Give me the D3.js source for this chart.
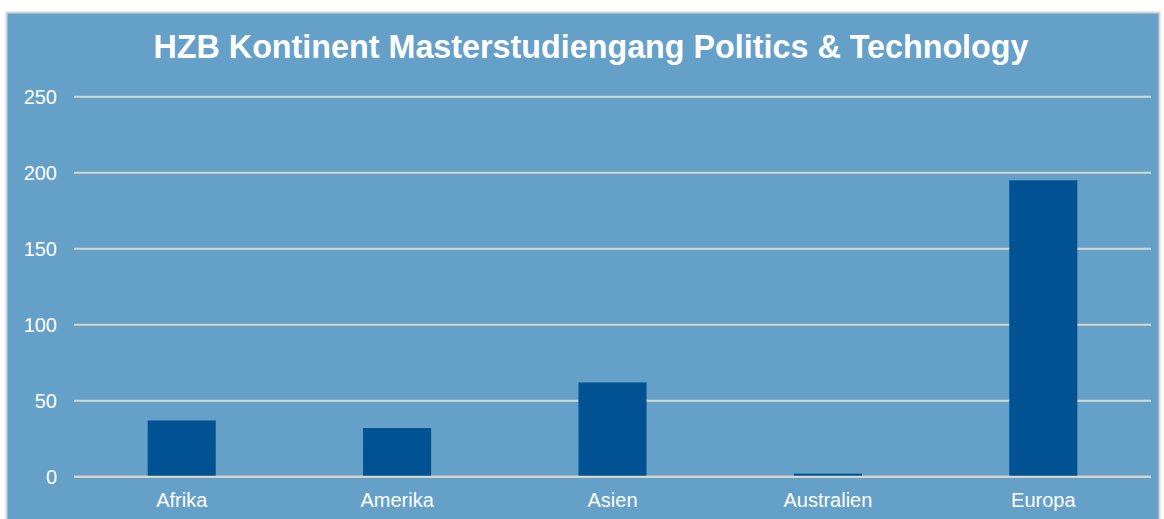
<!DOCTYPE html>
<html lang="de">
<head>
<meta charset="utf-8">
<title>HZB Kontinent Masterstudiengang Politics &amp; Technology</title>
<script src="https://cdn.jsdelivr.net/npm/d3@7"></script>
<style>
  body { margin: 0; background: #fff; }
  text { font-family: "Liberation Sans", Arial, sans-serif; }
</style>
</head>
<body>
<div id="chart"></div>
<script>
// Daten
var categories = ["Afrika", "Amerika", "Asien", "Australien", "Europa"];
var values = [37, 32, 62, 2, 195];
var yTicks = [0, 50, 100, 150, 200, 250];
var title = "HZB Kontinent Masterstudiengang Politics & Technology";

var W = 1164, H = 519;
var plot = { left: 74, right: 1151, top: 96.7, bottom: 476.7 };

var svg = d3.select("#chart").append("svg")
    .attr("width", W)
    .attr("height", H);

// Hintergrund mit grauem Rahmen
svg.append("rect")
    .attr("x", 6.5).attr("y", 12.5)
    .attr("width", 1153).attr("height", 530)
    .attr("fill", "#64a0c8")
    .attr("stroke", "#d4d4d4")
    .attr("stroke-width", 2);

var x = d3.scaleBand()
    .domain(categories)
    .range([plot.left, plot.right])
    .paddingInner(0.684)
    .paddingOuter(0.342);

var y = d3.scaleLinear()
    .domain([0, 250])
    .range([plot.bottom, plot.top]);

// Gitterlinien
svg.selectAll("line.grid")
    .data(yTicks)
    .enter()
    .append("line")
    .attr("class", "grid")
    .attr("x1", plot.left).attr("x2", plot.right)
    .attr("y1", function(d) { return y(d); })
    .attr("y2", function(d) { return y(d); })
    .attr("stroke", "#dad7cb")
    .attr("stroke-width", 2);

// y-Achse Beschriftung
svg.selectAll("text.ytick")
    .data(yTicks)
    .enter()
    .append("text")
    .attr("class", "ytick")
    .attr("x", 57)
    .attr("y", function(d) { return y(d); })
    .attr("dy", "0.35em")
    .attr("text-anchor", "end")
    .attr("font-size", "20px")
    .attr("fill", "#ffffff")
    .text(function(d) { return d; });

// Balken
svg.selectAll("rect.bar")
    .data(values)
    .enter()
    .append("rect")
    .attr("class", "bar")
    .attr("x", function(d, i) { return x(categories[i]); })
    .attr("y", function(d) { return y(d); })
    .attr("width", x.bandwidth())
    .attr("height", function(d) { return y(0) - y(d); })
    .attr("fill", "#005293");

// Nulllinie über den Balken
svg.append("line")
    .attr("x1", plot.left).attr("x2", plot.right)
    .attr("y1", y(0)).attr("y2", y(0))
    .attr("stroke", "#dad7cb")
    .attr("stroke-width", 2);

// x-Achse Beschriftung
svg.selectAll("text.xtick")
    .data(categories)
    .enter()
    .append("text")
    .attr("class", "xtick")
    .attr("x", function(d) { return x(d) + x.bandwidth() / 2; })
    .attr("y", 507)
    .attr("text-anchor", "middle")
    .attr("font-size", "20px")
    .attr("fill", "#ffffff")
    .text(function(d) { return d; });

// Titel
svg.append("text")
    .attr("x", 591)
    .attr("y", 58)
    .attr("text-anchor", "middle")
    .attr("font-size", "32.3px")
    .attr("font-weight", "bold")
    .attr("fill", "#ffffff")
    .text(title);
</script>
</body>
</html>
